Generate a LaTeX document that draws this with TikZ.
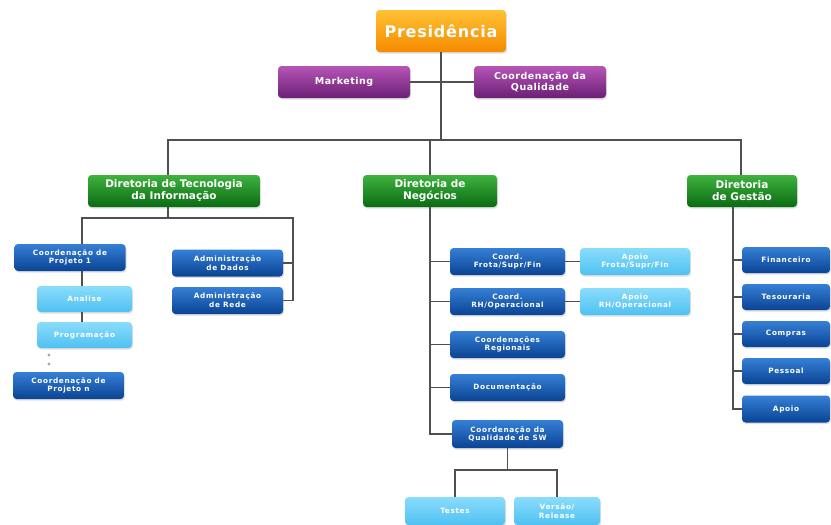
\documentclass[tikz,border=0pt]{standalone}
\usepackage{fontspec}
\setmainfont{DejaVu Sans}
\newfontfamily\labfont[LetterSpace=9]{DejaVu Sans}
\newfontfamily\midfont[LetterSpace=5]{DejaVu Sans}
\usetikzlibrary{shadows}
\definecolor{dbtop}{HTML}{3580D6}
\definecolor{dbbot}{HTML}{0A4394}
\definecolor{lbtop}{HTML}{8ADCFB}
\definecolor{lbbot}{HTML}{4FC1F2}
\definecolor{grtop}{HTML}{3FB23F}
\definecolor{grbot}{HTML}{0A6B12}
\definecolor{putop}{HTML}{B655B8}
\definecolor{pubot}{HTML}{6B1F75}
\definecolor{ortop}{HTML}{FFC233}
\definecolor{orbot}{HTML}{F58A00}
\definecolor{linec}{HTML}{505050}
\tikzset{
  box/.style={rounded corners=3.5pt, inner sep=1pt, align=center, text=white,
    drop shadow={opacity=0.25, shadow xshift=1pt, shadow yshift=-1.5pt}},
  darkbox/.style={box, top color=dbtop, bottom color=dbbot, font=\labfont\bfseries\fontsize{7.3}{8.6}\selectfont},
  lightbox/.style={box, top color=lbtop, bottom color=lbbot, font=\labfont\bfseries\fontsize{7.3}{8.6}\selectfont},
  greenbox/.style={box, top color=grtop, bottom color=grbot, font=\bfseries\fontsize{10.5}{12}\selectfont},
  purplebox/.style={box, top color=putop, bottom color=pubot, font=\midfont\bfseries\fontsize{9.5}{11}\selectfont},
  orangebox/.style={box, top color=ortop, bottom color=orbot, font=\midfont\bfseries\fontsize{16}{18}\selectfont},
  conn/.style={draw=linec, line width=1.3pt}
}
\begin{document}
\begin{tikzpicture}[x=1pt,y=-1pt]
\useasboundingbox (0,0) rectangle (831,525);
% top
\node[orangebox, minimum width=130, minimum height=42] (pres) at (441,31) {Presidência};
\node[purplebox, minimum width=132, minimum height=32] (mkt) at (344,82) {Marketing};
\node[purplebox, minimum width=132, minimum height=32] (cq) at (540,82) {Coordenação da\\Qualidade};
% directorates
\node[greenbox, minimum width=172, minimum height=32] (dti) at (174,191) {Diretoria de Tecnologia\\da Informação};
\node[greenbox, minimum width=134, minimum height=32] (dn) at (430,191) {Diretoria de\\Negócios};
\node[greenbox, minimum width=110, minimum height=32] (dg) at (742,191) {Diretoria\\de Gestão};
% TI subtree
\node[darkbox, minimum width=111, minimum height=27] (cp1) at (70,257.5) {Coordenação de\\Projeto 1};
\node[lightbox, minimum width=95, minimum height=26] (ana) at (84.5,299) {Analise};
\node[lightbox, minimum width=95, minimum height=26] (prog) at (84.5,335) {Programação};
\node[darkbox, minimum width=111, minimum height=27] (cpn) at (68.5,385.5) {Coordenação de\\Projeto n};
\node[darkbox, minimum width=111, minimum height=27] (ad) at (227.5,263) {Administração\\de Dados};
\node[darkbox, minimum width=111, minimum height=27] (ar) at (227.5,300.5) {Administração\\de Rede};
% Negocios subtree
\node[darkbox, minimum width=115, minimum height=27] (cf) at (507.5,261.5) {Coord.\\Frota/Supr/Fin};
\node[darkbox, minimum width=115, minimum height=27] (crh) at (507.5,301.5) {Coord.\\RH/Operacional};
\node[darkbox, minimum width=115, minimum height=27] (creg) at (507.5,344.5) {Coordenações\\Regionais};
\node[darkbox, minimum width=115, minimum height=27] (doc) at (507.5,387.5) {Documentação};
\node[darkbox, minimum width=111, minimum height=28] (cqs) at (507.5,434) {Coordenação da\\Qualidade de SW};
\node[lightbox, minimum width=110, minimum height=27] (af) at (635,261.5) {Apoio\\Frota/Supr/Fin};
\node[lightbox, minimum width=110, minimum height=27] (arh) at (635,301.5) {Apoio\\RH/Operacional};
\node[lightbox, minimum width=100, minimum height=28] (tes) at (455,511) {Testes};
\node[lightbox, minimum width=86, minimum height=28] (ver) at (557,511) {Versão/\\Release};
% Gestao subtree
\node[darkbox, minimum width=88, minimum height=26] (fin) at (786,260) {Financeiro};
\node[darkbox, minimum width=88, minimum height=26] (tsr) at (786,297) {Tesouraria};
\node[darkbox, minimum width=88, minimum height=26] (comp) at (786,334) {Compras};
\node[darkbox, minimum width=88, minimum height=26] (pess) at (786,371) {Pessoal};
\node[darkbox, minimum width=88, minimum height=27] (apo) at (786,409) {Apoio};
% connectors top
\coordinate (hub) at (441,140);
\draw[conn] (pres.south) -- (hub);
\draw[conn] (mkt.east) -- (mkt.east -| pres.south);
\draw[conn] (cq.west) -- (cq.west -| pres.south);
\coordinate (lx) at (168,140);
\coordinate (gx) at (741,140);
\draw[conn] (lx |- dti.north) -- (lx) -- (gx) -- (gx |- dg.north);
\draw[conn] (dn.north) -- (dn.north |- hub);
% TI connectors
\coordinate (tiL) at (82,218);
\coordinate (tiR) at (293,218);
\draw[conn] (lx |- dti.south) -- (lx |- tiL);
\draw[conn] (tiL |- cp1.north) -- (tiL) -- (tiR) -- (tiR |- ar.east) -- (ar.east);
\draw[conn] (ad.east) -- (ad.east -| tiR);
\draw[conn] (tiL |- cp1.south) -- (tiL |- ana.north);
\draw[conn] (tiL |- ana.south) -- (tiL |- prog.north);
\fill[gray!70] (49,355) circle (1.7);
\fill[gray!70] (49,364) circle (1.7);
% Negocios connectors
\draw[conn] (dn.south) -- (dn.south |- cqs.west) -- (cqs.west);
\foreach \n in {cf,crh,creg,doc}{
  \draw[conn] (\n.west -| dn.south) -- (\n.west);
}
\draw[conn] (cf.east) -- (af.west);
\draw[conn] (crh.east) -- (arh.west);
\coordinate (qb) at (507.5,470);
\draw[conn] (cqs.south) -- (qb);
\draw[conn] (tes.north) -- (tes.north |- qb) -- (ver.north |- qb) -- (ver.north);
% Gestao connectors
\coordinate (gv) at (733,207);
\draw[conn] (gv |- dg.south) -- (gv |- apo.west) -- (apo.west);
\foreach \n in {fin,tsr,comp,pess}{
  \draw[conn] (\n.west -| gv) -- (\n.west);
}
\end{tikzpicture}
\end{document}
